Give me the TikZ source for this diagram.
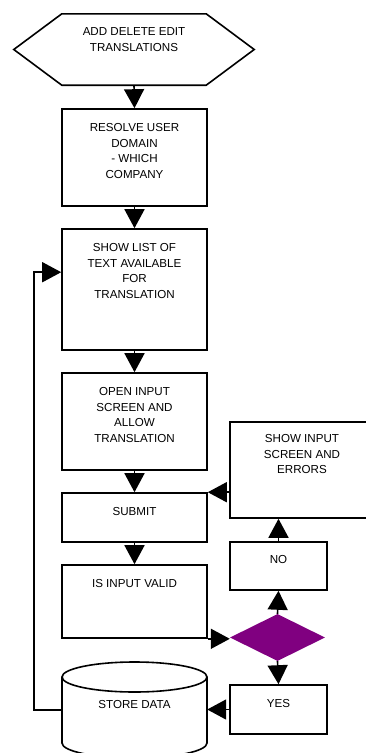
\documentclass[tikz,border=0pt]{standalone}
\usepackage{fontspec}
\setmainfont{Liberation Sans}
\usetikzlibrary{arrows.meta,shapes.geometric}
\definecolor{dpurple}{RGB}{128,0,128}
\begin{document}
\begin{tikzpicture}[x=1pt,y=-1pt,
 box/.style={draw, line width=1.6pt, minimum width=145pt, inner sep=0pt},
 sbox/.style={draw, line width=1.6pt, minimum width=97pt, inner sep=0pt},
 txt/.style={anchor=north, align=center, inner sep=0pt, font=\fontsize{11.6}{15.7}\selectfont},
 arr/.style={line width=1.6pt, -{Triangle[width=20pt,length=19pt]}}]
\clip (0,0) rectangle (366,753);
% start hexagon
\node[minimum width=240pt, minimum height=71pt, inner sep=0pt] (hex) at (134,49.5) {};
\draw[line width=1.6pt] (hex.west) -- ([xshift=48pt]hex.north west) -- ([xshift=-48pt]hex.north east) -- (hex.east) -- ([xshift=-48pt]hex.south east) -- ([xshift=48pt]hex.south west) -- cycle;
\node[txt] at ([yshift=-14pt]hex.north) {ADD DELETE EDIT\\TRANSLATIONS};
% boxes
\node[box, minimum height=97pt] (b1) at (134.5,157.5) {};
\node[txt] at ([yshift=-15pt]b1.north) {RESOLVE USER\\DOMAIN\\- WHICH\\COMPANY};
\node[box, minimum height=121pt] (b2) at (134.5,289.5) {};
\node[txt] at ([yshift=-15pt]b2.north) {SHOW LIST OF\\TEXT AVAILABLE\\FOR\\TRANSLATION};
\node[box, minimum height=97pt] (b3) at (134.5,421.5) {};
\node[txt] at ([yshift=-15pt]b3.north) {OPEN INPUT\\SCREEN AND\\ALLOW\\TRANSLATION};
\node[box, minimum height=49pt] (sub) at (134.5,517.5) {};
\node[txt] at ([yshift=-15pt]sub.north) {SUBMIT};
\node[box, minimum height=73pt] (val) at (134.5,601.5) {};
\node[txt] at ([yshift=-15pt]val.north) {IS INPUT VALID};
\node[box, minimum width=144pt, minimum height=96pt] (err) at (302,470) {};
\node[txt] at ([yshift=-13pt]err.north) {SHOW INPUT\\SCREEN AND\\ERRORS};
\node[sbox, minimum height=48pt] (no) at (278.5,566) {};
\node[txt] at ([yshift=-14pt]no.north) {NO};
\node[diamond, fill=dpurple, minimum width=95pt, minimum height=47pt, inner sep=0pt] (dia) at (277.5,637.5) {};
\node[sbox, minimum height=49pt] (yes) at (278.5,709.5) {};
\node[txt] at ([yshift=-15pt]yes.north) {YES};
% store cylinder
\node[minimum width=145pt, minimum height=96pt, inner sep=0pt] (st) at (134.5,710) {};
\draw[line width=1.6pt] (134.5,677) ellipse [x radius=72.5, y radius=15];
\draw[line width=1.6pt] (62,677) -- (62,743) arc[start angle=180, end angle=0, x radius=72.5, y radius=15] -- (207,677);
\node[txt] at (134.5,700) {STORE DATA};
% arrows
\draw[arr] (hex.south) -- (b1.north);
\draw[arr] (b1.south) -- (b2.north);
\draw[arr] (b2.south) -- (b3.north);
\draw[arr] (b3.south) -- (sub.north);
\draw[arr] (sub.south) -- (val.north);
\draw[arr] (val.south east) -- (val.south east -| dia.west);
\draw[arr] (dia.north) -- (no.south);
\draw[arr] (no.north) -- (no.north |- err.south);
\draw[arr] (err.west |- sub.north east) -- (sub.north east);
\draw[arr] (dia.south) -- (yes.north);
\draw[arr] (yes.west) -- (yes.west -| st.east);
\draw[arr] (st.west) -- ++(-28,0) |- ([yshift=-44pt]b2.north west);
\end{tikzpicture}
\end{document}
